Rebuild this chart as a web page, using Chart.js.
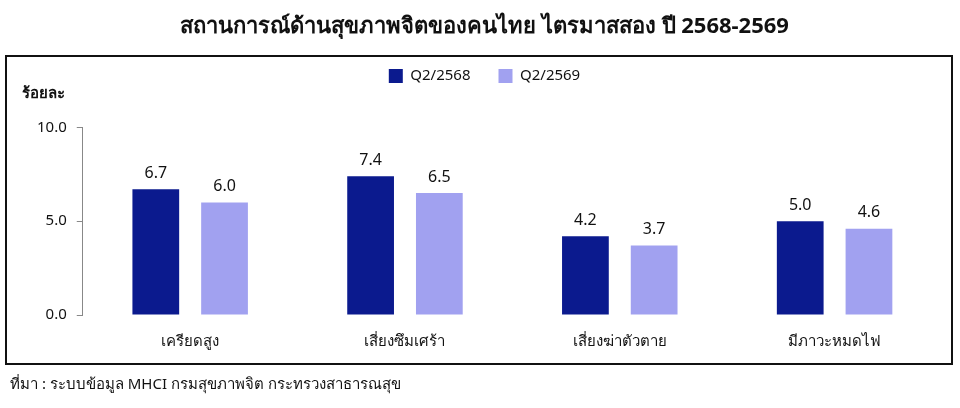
<!DOCTYPE html>
<html><head><meta charset="utf-8">
<script src="https://cdn.jsdelivr.net/npm/chart.js@4"></script>
<style>html,body{margin:0;background:#fff}#wrap{width:960px;height:408px;position:relative}</style>
</head><body><div id="wrap"><canvas id="c"></canvas></div>
<script>
const categories = ["เครียดสูง", "เสี่ยงซึมเศร้า", "เสี่ยงฆ่าตัวตาย", "มีภาวะหมดไฟ"]
const q2_2568 = [6.7, 7.4, 4.2, 5.0]
const q2_2569 = [6.0, 6.5, 3.7, 4.6]
const FONT = "Tahoma, 'Noto Sans', sans-serif"

const extras = {
    id: "extras",
    afterInit(chart) {
        // extra room under the legend
        const fit = chart.legend.fit
        chart.legend.fit = function () { fit.call(this); this.height += 34 }
    },
    afterDraw(chart) {
        const ctx = chart.ctx
        ctx.save()
        ctx.strokeStyle = "#111"
        ctx.lineWidth = 2
        ctx.strokeRect(6, 56, 946, 308)
        ctx.fillStyle = "#111"
        ctx.font = "bold 15px " + FONT
        ctx.textAlign = "left"
        ctx.textBaseline = "middle"
        ctx.fillText("ร้อยละ", 22, 94)
        ctx.font = "15px " + FONT
        ctx.fillText("ที่มา : ระบบข้อมูล MHCI กรมสุขภาพจิต กระทรวงสาธารณสุข", 10, 385)
        // value labels
        ctx.font = "16px " + FONT
        ctx.textAlign = "center"
        ctx.textBaseline = "bottom"
        chart.data.datasets.forEach((ds, i) => {
            chart.getDatasetMeta(i).data.forEach((bar, j) => {
                ctx.fillText(ds.data[j].toFixed(1), bar.x, bar.y - 8)
            })
        })
        ctx.restore()
    }
}

new Chart(document.getElementById("c"), {
    type: "bar",
    data: {
        labels: categories,
        datasets: [
            { label: "Q2/2568", data: q2_2568, backgroundColor: "#0b1a8e" },
            { label: "Q2/2569", data: q2_2569, backgroundColor: "#a1a1f0" }
        ]
    },
    options: {
        responsive: true,
        maintainAspectRatio: false,
        animation: false,
        categoryPercentage: 0.64,
        barPercentage: 0.68,
        layout: { padding: { left: 27, right: 18, top: 0, bottom: 47 } },
        plugins: {
            title: {
                display: true,
                text: "สถานการณ์ด้านสุขภาพจิตของคนไทย ไตรมาสสอง ปี 2568-2569",
                color: "#111",
                font: { family: FONT, size: 22, weight: "bold" },
                padding: { top: 14, bottom: 0 }
            },
            legend: {
                labels: {
                    boxWidth: 14, boxHeight: 14, color: "#111", padding: 28,
                    font: { family: FONT, size: 15 }
                }
            },
            tooltip: { enabled: false }
        },
        scales: {
            y: {
                min: 0, max: 10,
                ticks: { stepSize: 5, color: "#111", padding: 10, font: { family: FONT, size: 15 }, callback: v => v.toFixed(1) },
                grid: { drawOnChartArea: false, drawTicks: true, tickLength: 6, color: "#888" },
                border: { color: "#888" }
            },
            x: {
                ticks: { color: "#111", padding: 10, font: { family: FONT, size: 15 } },
                grid: { display: false },
                border: { display: false }
            }
        }
    },
    plugins: [extras]
})
</script></body></html>
